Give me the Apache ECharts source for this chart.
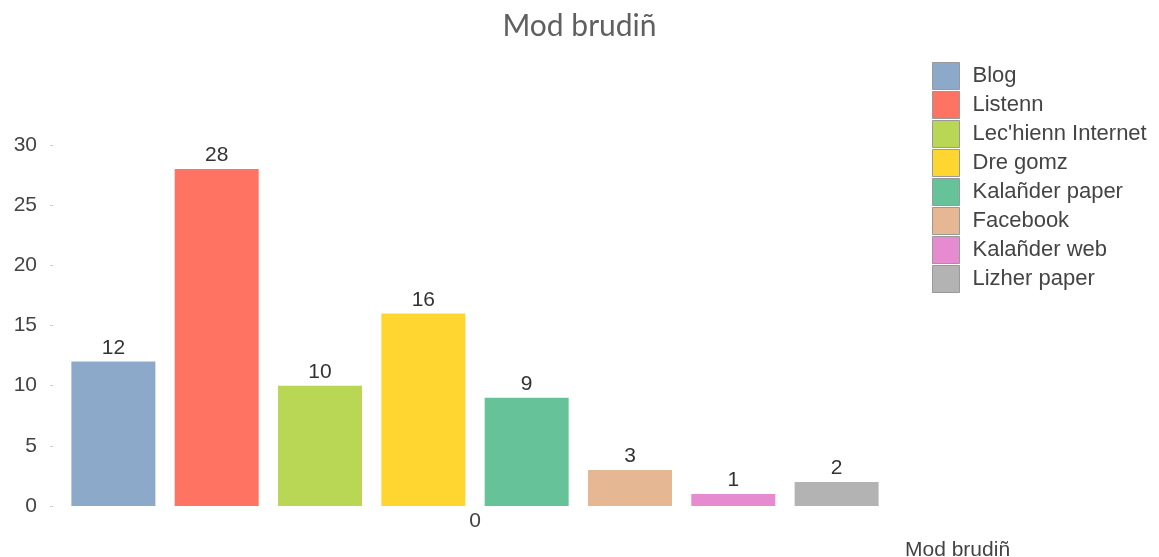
<!DOCTYPE html>
<html><head><meta charset="utf-8">
<script src="https://cdn.jsdelivr.net/npm/echarts@6/dist/echarts.min.js"></script>
<style>html,body{margin:0;padding:0;background:#fff}#c{width:1159px;height:557px}</style>
</head><body><div id="c"></div>
<script>
const categories = ['0'];
const seriesNames = ['Blog','Listenn',"Lec'hienn Internet",'Dre gomz','Kalañder paper','Facebook','Kalañder web','Lizher paper'];
const seriesValues = [12, 28, 10, 16, 9, 3, 1, 2];
const colors = ['#8DA9CA','#FF7362','#B9D654','#FFD62F','#66C299','#E5B793','#E78BD1','#B3B3B3'];
const yTicks = [0,5,10,15,20,25,30];

const chart = echarts.init(document.getElementById('c'));
chart.setOption({
  animation: false,
  title: {text: 'Mod brudiñ', left: 'center', top: 6,
    textStyle: {fontFamily: 'Lato', fontSize: 30, fontWeight: 'normal', color: '#606060'}},
  legend: {orient: 'vertical', left: 927, top: 57, itemWidth: 27, itemHeight: 27, itemGap: 1,
    icon: 'rect',
    itemStyle: {borderColor: '#999', borderWidth: 1},
    textStyle: {fontFamily: 'Liberation Sans', fontSize: 22, color: '#444', padding: [0,0,0,8]},
    data: seriesNames},
  grid: {left: 53, right: 262, top: 145, bottom: 51, containLabel: false, outerBoundsMode: 'none'},
  xAxis: {type: 'category', data: categories,
    axisLine: {show: false}, axisTick: {show: false},
    axisLabel: {fontFamily: 'Liberation Sans', fontSize: 21, color: '#444', margin: 5},
    name: 'Mod brudiñ', nameLocation: 'end', nameGap: 0,
    nameTextStyle: {fontFamily: 'Liberation Sans', fontSize: 21, color: '#444', align: 'left', verticalAlign: 'top', padding: [34,0,0,8]}},
  yAxis: {type: 'value', min: 0, max: 30, interval: 5,
    axisLine: {show: false}, splitLine: {show: false},
    axisTick: {show: true, length: 3, inside: false, lineStyle: {color: '#ccc'}},
    axisLabel: {fontFamily: 'Liberation Sans', fontSize: 21, color: '#444', margin: 16,
      formatter: v => yTicks.includes(v) ? String(v) : ''}},
  series: seriesNames.map((n, i) => ({
    name: n, type: 'bar', barWidth: 84, barGap: '23%',
    data: [seriesValues[i]],
    itemStyle: {color: colors[i]},
    label: {show: true, position: 'top', distance: 3, fontFamily: 'Liberation Sans', fontSize: 21, color: '#333'}
  }))
});
</script></body></html>
